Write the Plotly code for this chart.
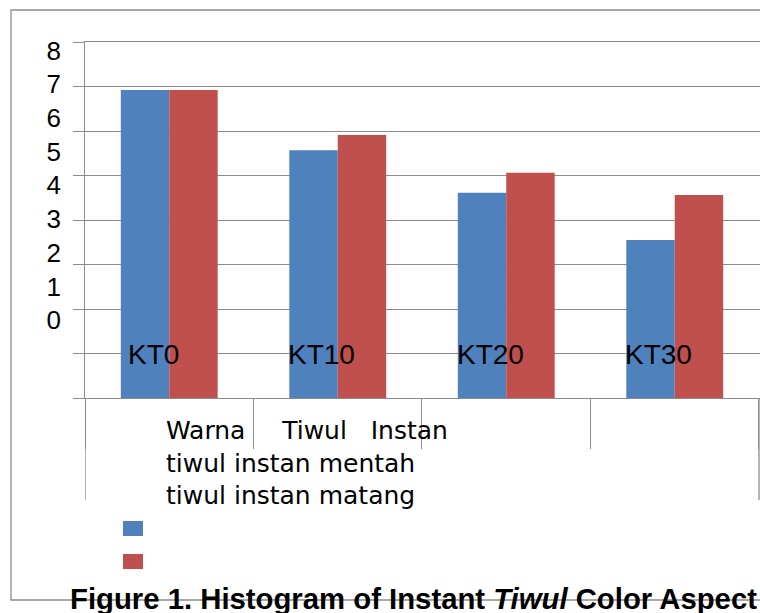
import plotly.graph_objects as go

# Sample groups and the two series (colour score of instant tiwul)
categories = ["KT0", "KT10", "KT20", "KT30"]
series_names = ["tiwul instan mentah", "tiwul instan matang"]
mentah_values = [6.92, 5.57, 4.61, 3.55]
matang_values = [6.92, 5.91, 5.06, 4.56]
series_colors = ["#4F81BD", "#C0504D"]

y_tick_values = [0, 1, 2, 3, 4, 5, 6, 7, 8]
y_tick_labels = ["0", "1", "2", "3", "4", "5", "6", "7", "8"]
x_title_words = ["Warna", "Tiwul", "Instan"]
caption = "<b>Figure 1. Histogram of Instant <i>Tiwul</i> Color Aspect</b>"

GRID = "#8c8c8c"
NB = "\u00a0"
THIN = "\u2009"

W, H = 760, 613
L, R, T, B = 85, 0, 42, 215
PW, PH = W - L - R, H - T - B


def px_x(p):
    return (p - L) / PW


def px_y(p):
    return (H - B - p) / PH


fig = go.Figure()
for name, vals, col in zip(series_names, [mentah_values, matang_values], series_colors):
    fig.add_trace(go.Bar(x=categories, y=vals, name=name, marker_color=col,
                         marker_line_width=0, showlegend=False))

# empty trace that carries the separately spaced value-label axis
fig.add_trace(go.Scatter(x=categories, y=[None] * len(categories), yaxis="y2",
                         mode="markers", marker=dict(opacity=0),
                         showlegend=False, hoverinfo="skip"))

fig.update_layout(
    width=W, height=H,
    margin=dict(l=L, r=R, t=T, b=B, pad=0),
    paper_bgcolor="white", plot_bgcolor="white",
    barmode="group", bargap=0.425, bargroupgap=0,
    font=dict(family="Liberation Sans, Arial", color="black"),
    xaxis=dict(
        type="category", categoryorder="array", categoryarray=categories,
        range=[-0.5, 3.506], showgrid=False, zeroline=False,
        showline=True, mirror=True, linecolor=GRID, linewidth=1.3,
        tickson="boundaries", ticks="outside", ticklen=50,
        tickcolor=GRID, tickwidth=1.3, showticklabels=False,
    ),
    yaxis=dict(
        range=[0, 8], tickvals=y_tick_values, showticklabels=False,
        showgrid=True, gridcolor=GRID, gridwidth=1.3, zeroline=False,
        showline=True, linecolor=GRID, linewidth=1.3,
        ticks="outside", ticklen=11, tickcolor=GRID, tickwidth=1.3,
    ),
    yaxis2=dict(
        overlaying="y", side="left", anchor="x",
        range=[-2.31, 8.25], tickvals=y_tick_values, ticktext=y_tick_labels,
        showgrid=False, zeroline=False, showline=False, ticks="",
        ticklabelstandoff=23,
        tickfont=dict(family="Liberation Sans, Arial", size=26, color="black"),
    ),
)

shapes = []
# outer frame of the chart
shapes.append(dict(type="rect", xref="paper", yref="paper",
                   x0=px_x(11), x1=px_x(W + 20), y0=px_y(600), y1=px_y(10),
                   line=dict(color=GRID, width=1.3), fillcolor="rgba(0,0,0,0)",
                   layer="below"))
# long outer boundary ticks of the category axis
for xb in [-0.5, len(categories) - 0.5]:
    shapes.append(dict(type="line", xref="x", yref="y domain",
                       x0=xb, x1=xb, y0=0, y1=px_y(500),
                       line=dict(color=GRID, width=1.3)))
# legend keys
key_tops = [521, 554]
for col, top in zip(series_colors, key_tops):
    shapes.append(dict(type="rect", xref="paper", yref="paper",
                       x0=px_x(123), x1=px_x(143), y0=px_y(top + 15), y1=px_y(top),
                       line=dict(width=0), fillcolor=col))
fig.update_layout(shapes=shapes)

# category names, sitting on the first gridline inside the plot
for cat in categories:
    fig.add_annotation(text=cat, x=cat, y=1, xref="x", yref="y",
                       xanchor="center", yanchor="middle", xshift=-16, yshift=-1,
                       showarrow=False,
                       font=dict(family="Liberation Sans, Arial", size=28, color="black"))

line1 = x_title_words[0] + NB * 4 + THIN + x_title_words[1] + NB * 3 + x_title_words[2]
block = "<br>".join([line1] + series_names)

fig.add_annotation(text=block, xref="paper", yref="paper",
                   x=px_x(164), y=px_y(414), xanchor="left", yanchor="top",
                   align="left", showarrow=False,
                   font=dict(family="DejaVu Sans", size=25, color="black"))
fig.add_annotation(text=caption, xref="paper", yref="paper",
                   x=px_x(413.5), y=px_y(598), xanchor="center", yanchor="middle",
                   showarrow=False,
                   font=dict(family="Liberation Sans, Arial", size=29.3, color="black"))

fig.write_html("out.html")
